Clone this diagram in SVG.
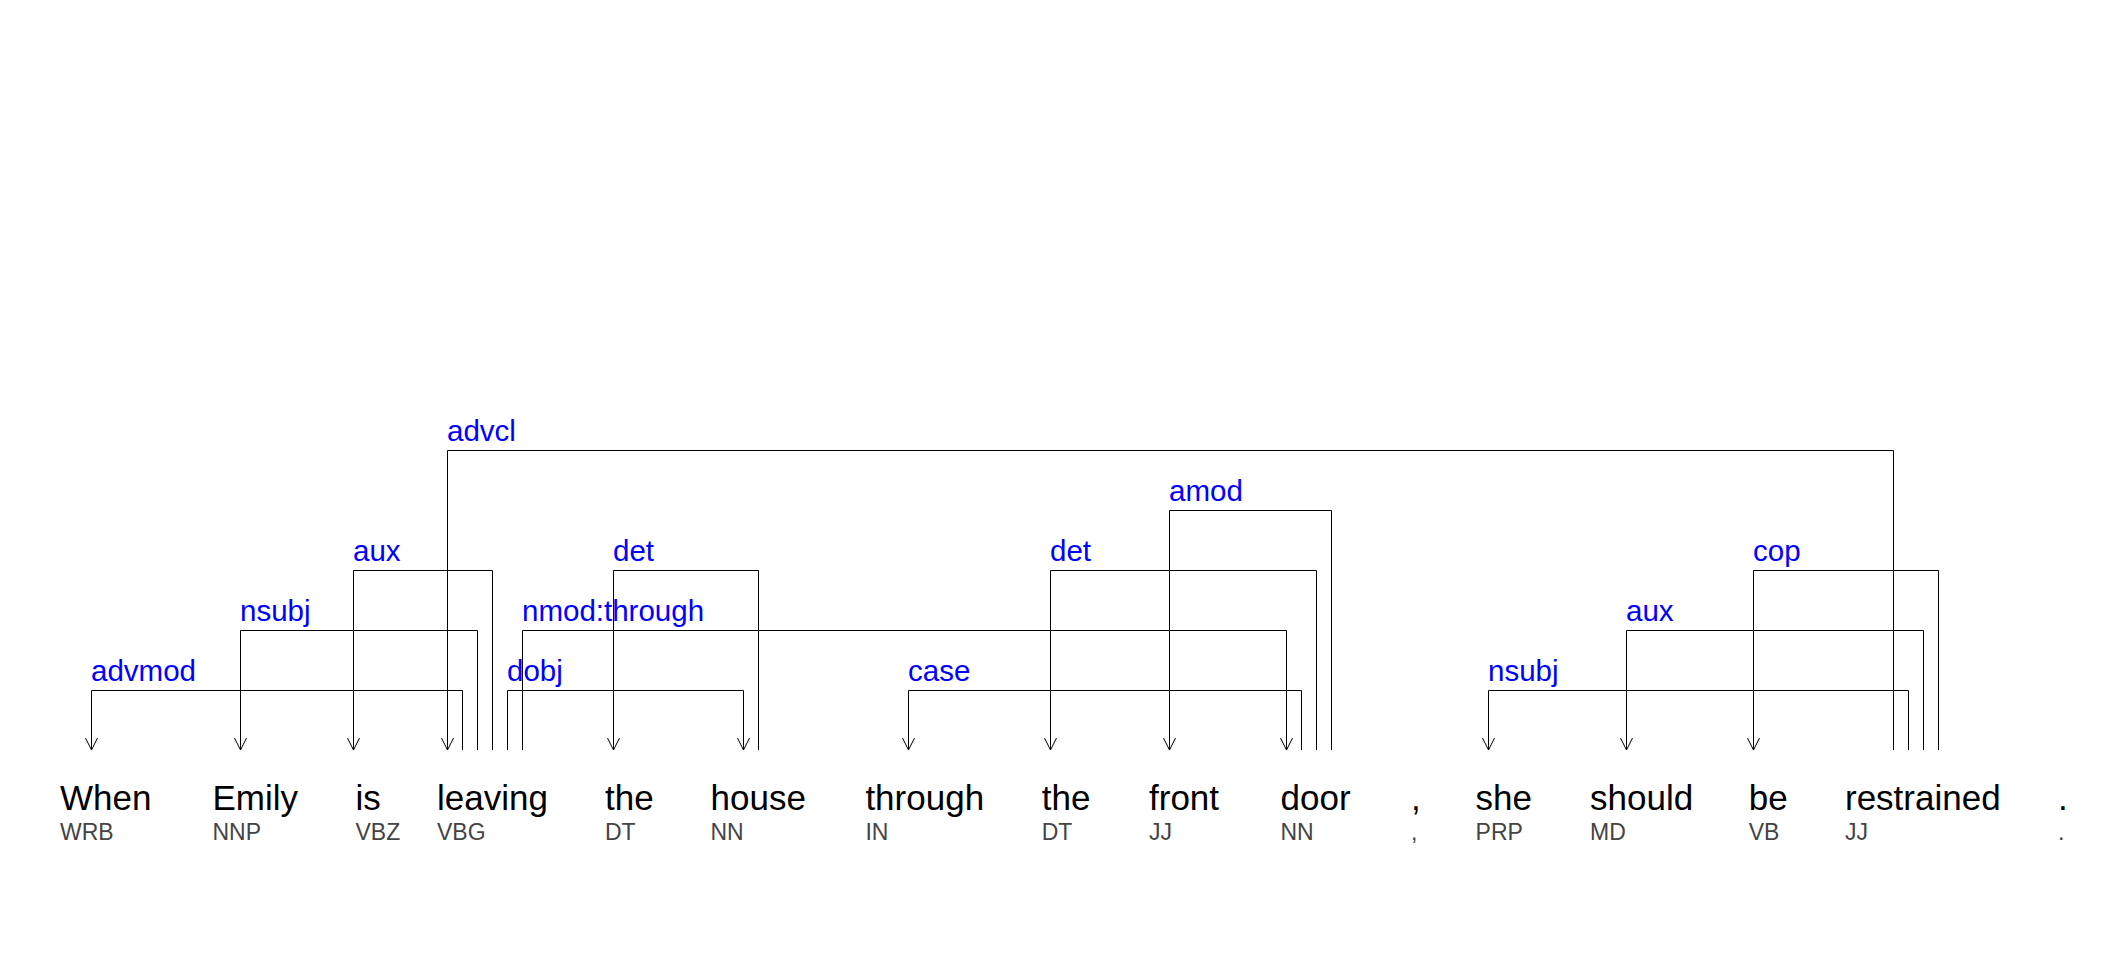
<svg xmlns="http://www.w3.org/2000/svg" width="2126" height="960" viewBox="0 0 2126 960">
<style>
.w{font-family:"Liberation Sans",Arial,sans-serif;font-size:35px;fill:#000}
.t{font-family:"Liberation Sans",Arial,sans-serif;font-size:23px;fill:#444}
.l{font-family:"Liberation Sans",Arial,sans-serif;font-size:29.5px;fill:#0000ff}
.e{fill:none;stroke:#000;stroke-width:1}
.a{fill:none;stroke:#000;stroke-width:1;marker-end:url(#ah)}
</style>
<defs>
<marker id="ah" markerUnits="userSpaceOnUse" viewBox="-14 -8 16 16" markerWidth="16" markerHeight="16" refX="0" refY="0" orient="auto" overflow="visible">
<path d="M-12,-6 L0,0 L-12,6" fill="none" stroke="#000" stroke-width="1"/>
</marker>
</defs>
<rect width="2126" height="960" fill="#fff"/>
<g id="connectors">
<path id="e-advcl" class="a" d="M1893.5,750 V450.5 H447.5 V750"/>
<path id="e-amod" class="a" d="M1331.5,750 V510.5 H1169.5 V750"/>
<path id="e-aux1" class="a" d="M492.5,750 V570.5 H353.5 V750"/>
<path id="e-det1" class="a" d="M758.5,750 V570.5 H613.5 V750"/>
<path id="e-det2" class="a" d="M1316.5,750 V570.5 H1050.5 V750"/>
<path id="e-cop" class="a" d="M1938.5,750 V570.5 H1753.5 V750"/>
<path id="e-nsubj1" class="a" d="M477.5,750 V630.5 H240.5 V750"/>
<path id="e-nmod" class="a" d="M522.5,750 V630.5 H1286.5 V750"/>
<path id="e-aux2" class="a" d="M1923.5,750 V630.5 H1626.5 V750"/>
<path id="e-advmod" class="a" d="M462.5,750 V690.5 H91.5 V750"/>
<path id="e-dobj" class="a" d="M507.5,750 V690.5 H743.5 V750"/>
<path id="e-case" class="a" d="M1301.5,750 V690.5 H908.5 V750"/>
<path id="e-nsubj2" class="a" d="M1908.5,750 V690.5 H1488.5 V750"/>
<text class="l" x="447" y="441">advcl</text>
<text class="l" x="1169" y="501">amod</text>
<text class="l" x="353" y="561">aux</text>
<text class="l" x="613" y="561">det</text>
<text class="l" x="1050" y="561">det</text>
<text class="l" x="1753" y="561">cop</text>
<text class="l" x="240" y="621">nsubj</text>
<text class="l" x="522" y="621">nmod:through</text>
<text class="l" x="1626" y="621">aux</text>
<text class="l" x="91" y="681">advmod</text>
<text class="l" x="507" y="681">dobj</text>
<text class="l" x="908" y="681">case</text>
<text class="l" x="1488" y="681">nsubj</text>
</g>
<g id="w1"><text class="w" x="60" y="810">When</text><text class="t" x="60" y="840">WRB</text></g>
<g id="w2"><text class="w" x="212.5" y="810">Emily</text><text class="t" x="212.5" y="840">NNP</text></g>
<g id="w3"><text class="w" x="355.5" y="810">is</text><text class="t" x="355.5" y="840">VBZ</text></g>
<g id="w4"><text class="w" x="437" y="810">leaving</text><text class="t" x="437" y="840">VBG</text></g>
<g id="w5"><text class="w" x="605" y="810">the</text><text class="t" x="605" y="840">DT</text></g>
<g id="w6"><text class="w" x="710.5" y="810">house</text><text class="t" x="710.5" y="840">NN</text></g>
<g id="w7"><text class="w" x="865.4" y="810">through</text><text class="t" x="865.4" y="840">IN</text></g>
<g id="w8"><text class="w" x="1041.7" y="810">the</text><text class="t" x="1041.7" y="840">DT</text></g>
<g id="w9"><text class="w" x="1149" y="810">front</text><text class="t" x="1149" y="840">JJ</text></g>
<g id="w10"><text class="w" x="1280.5" y="810">door</text><text class="t" x="1280.5" y="840">NN</text></g>
<g id="w11"><text class="w" x="1411" y="810">,</text><text class="t" x="1411" y="840">,</text></g>
<g id="w12"><text class="w" x="1475.6" y="810">she</text><text class="t" x="1475.6" y="840">PRP</text></g>
<g id="w13"><text class="w" x="1590" y="810">should</text><text class="t" x="1590" y="840">MD</text></g>
<g id="w14"><text class="w" x="1748.7" y="810">be</text><text class="t" x="1748.7" y="840">VB</text></g>
<g id="w15"><text class="w" x="1845" y="810">restrained</text><text class="t" x="1845" y="840">JJ</text></g>
<g id="w16"><text class="w" x="2058" y="810">.</text><text class="t" x="2058" y="840">.</text></g>
</svg>
